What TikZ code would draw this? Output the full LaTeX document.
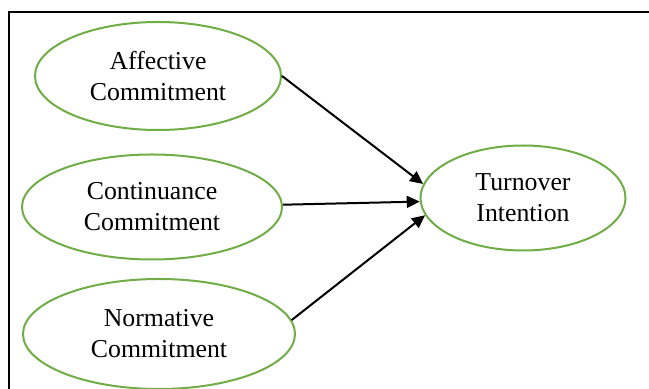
\documentclass[tikz,border=0pt]{standalone}
\usepackage{fontspec}
\setmainfont{Liberation Serif}
\usetikzlibrary{arrows.meta}
\usetikzlibrary{shapes.geometric,positioning}
\definecolor{ovalgreen}{RGB}{112,173,71}
\tikzset{
    % 椭圆节点样式
    oval/.style={
        ellipse,
        draw=ovalgreen,
        line width=1pt,
        inner sep=0pt,
        align=center,
        font=\fontsize{12.9}{15.5}\selectfont
    },
    % 黑色箭头样式
    blackarrow/.style={
        line width=1pt,
        black,
        ->,
        >={Triangle[length=6.5pt, width=6pt]}
    }
}
\begin{document}
\begin{tikzpicture}[x=0.5pt,y=-0.5pt]
	\useasboundingbox (0,0) rectangle (649,389);
	
	% 外框
	\draw[line width=1pt] (9,389) -- (9,12) -- (649,12);
	
	% 椭圆
	\node[oval,minimum width=123pt,minimum height=54pt] (affective) at (158,76) {Affective\\Commitment};
	\node[oval,minimum width=130pt,minimum height=52.5pt] (continuance) at (152,207) {Continuance\\Commitment};
	\node[oval,minimum width=136pt,minimum height=55pt] (normative) at (159,334) {Normative\\Commitment};
	\node[oval,minimum width=102.5pt,minimum height=52.5pt] (turnover) at (523,198) {Turnover\\Intention};
	
	% 箭头
	\draw[blackarrow] (affective.east) -- (turnover.172);
	\draw[blackarrow] (continuance.1) -- (turnover.182);
	\draw[blackarrow] (normative.6) -- (turnover.190);
\end{tikzpicture}
\end{document}
